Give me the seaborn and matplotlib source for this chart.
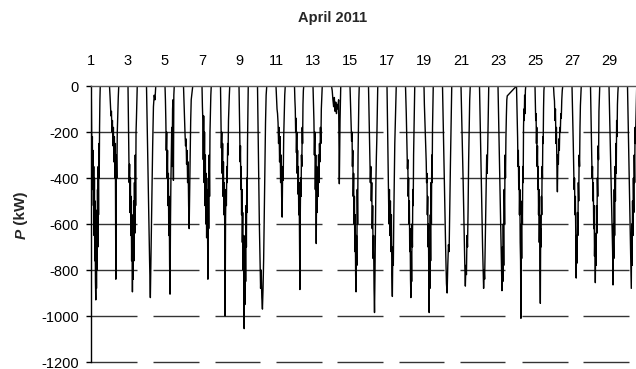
import numpy as np
import pandas as pd
import matplotlib
matplotlib.use("Agg")
import matplotlib.pyplot as plt
import seaborn as sns

# Daytime power readings (kW, generation negative), one list per day of April 2011,
# sampled evenly from sunrise to sunset.
apr01 = [0, -60, -230, -300, -220, -450, -280, -520, -350, -650, -400, -760, -500, -850, -930, -620, -880, -540, -800, -450, -700, -350, -560, -250, -400, -180, -60, 0]
apr02 = [0, -40, -90, -130, -110, -200, -150, -260, -180, -330, -220, -400, -250, -840, -300, -400, -200, -120, -50, 0]
apr03 = [0, -150, -300, -420, -340, -550, -400, -650, -480, -760, -560, -895, -620, -840, -500, -760, -420, -640, -300, -520, -200, -140, -60, 0]
apr04 = [0, -180, -380, -580, -760, -920, -700, -480, -260, -90, -40, -60, 0]
apr05 = [0, -60, -150, -280, -200, -400, -280, -520, -380, -650, -480, -780, -905, -600, -420, -300, -180, -350, -100, -60, -410, -40, 0]
apr06 = [0, -70, -150, -210, -260, -230, -340, -280, -420, -330, -520, -620, -450, -300, -150, -60, -40, -20, 0]
apr07 = [0, -90, -150, -320, -130, -420, -200, -520, -300, -600, -380, -660, -450, -560, -840, -400, -620, -300, -480, -200, -110, -40, 0]
apr08 = [0, -150, -270, -200, -380, -250, -480, -330, -560, -420, -600, -1000, -580, -450, -520, -350, -420, -250, -300, -150, -90, -40, 0]
apr09 = [0, -90, -200, -330, -260, -450, -350, -560, -450, -680, -550, -800, -650, -900, -1055, -780, -950, -650, -850, -520, -700, -400, -550, -250, -120, 0]
apr10 = [0, -200, -400, -600, -750, -880, -800, -920, -970, -880, -750, -560, -350, -160, -40, 0]
apr11 = [0, -50, -100, -120, -160, -250, -180, -330, -220, -420, -300, -480, -570, -350, -410, -220, -120, -40, 0]
apr12 = [0, -60, -100, -200, -140, -290, -200, -380, -280, -470, -350, -560, -420, -680, -885, -560, -400, -480, -300, -350, -180, -250, -80, -20, 0]
apr13 = [0, -80, -150, -300, -200, -450, -300, -685, -350, -550, -400, -480, -300, -420, -250, -330, -180, -250, -100, -50, 0]
apr14 = [0, -20, -60, -90, -50, -110, -70, -120, -80, -100, -60, -425, -150, 0]
apr15 = [0, -60, -130, -180, -240, -200, -350, -280, -480, -380, -600, -480, -720, -560, -820, -895, -650, -780, -450, -600, -300, -170, -60, 0]
apr16 = [0, -100, -200, -300, -420, -350, -500, -420, -620, -520, -750, -650, -880, -985, -820, -600, -420, -310, -230, -100, 0]
apr17 = [0, -150, -320, -480, -600, -450, -650, -500, -720, -560, -820, -915, -700, -780, -560, -400, -250, -165, -80, 0]
apr18 = [0, -60, -120, -200, -280, -360, -320, -480, -400, -600, -500, -720, -620, -840, -920, -720, -850, -600, -700, -450, -520, -300, -195, -80, 0]
apr19 = [0, -80, -130, -170, -220, -265, -330, -420, -380, -560, -480, -700, -600, -850, -985, -700, -880, -560, -760, -420, -600, -300, -420, -185, -80, 0]
apr20 = [0, -150, -300, -450, -600, -740, -860, -900, -780, -690, -720, -520, -340, -170, 0]
apr21 = [0, -100, -200, -300, -420, -540, -660, -780, -870, -780, -820, -650, -700, -540, -330, -200, -60, 0]
apr22 = [0, -120, -240, -360, -480, -600, -700, -790, -880, -800, -840, -700, -560, -410, -300, -380, -265, -120, 0]
apr23 = [0, -100, -200, -300, -400, -500, -600, -700, -800, -890, -700, -850, -600, -780, -450, -600, -300, -400, -225, -130, -60, -43]
apr24 = [0, -80, -160, -225, -350, -280, -450, -350, -560, -450, -680, -760, -1010, -600, -750, -500, -600, -350, -420, -180, -100, -150, -40, -120, -20, 0]
apr25 = [0, -80, -150, -120, -250, -180, -350, -260, -450, -350, -560, -450, -680, -560, -800, -945, -620, -700, -480, -560, -350, -400, -220, -250, -100, -20, 0]
apr26 = [0, -40, -65, -150, -100, -250, -180, -350, -460, -300, -340, -230, -280, -180, -200, -120, -140, -60, -20, 0]
apr27 = [0, -80, -160, -250, -345, -450, -400, -560, -480, -680, -835, -650, -770, -550, -650, -420, -500, -300, -350, -180, -85, -40, 0]
apr28 = [0, -100, -200, -310, -400, -350, -500, -420, -620, -520, -740, -640, -855, -650, -780, -520, -640, -400, -480, -260, -320, -110, -50, 0]
apr29 = [0, -80, -160, -240, -320, -400, -480, -560, -640, -720, -865, -600, -750, -450, -650, -350, -500, -250, -380, -150, -220, -80, -30, 0]
apr30 = [0, -100, -200, -300, -420, -520, -610, -700, -800, -880, -600, -780, -500, -650, -400, -550, -300, -420, -180, -250, -150, -80, 0]

days = list(range(1, 31))
daily = [apr01, apr02, apr03, apr04, apr05, apr06, apr07, apr08, apr09, apr10,
         apr11, apr12, apr13, apr14, apr15, apr16, apr17, apr18, apr19, apr20,
         apr21, apr22, apr23, apr24, apr25, apr26, apr27, apr28, apr29, apr30]

x_ticks = list(range(1, 30, 2))
y_ticks = [0, -200, -400, -600, -800, -1000, -1200]

# Build one continuous time series (days, fractional) from the daily lists
DAYLIGHT = 0.5
t, p = [], []
for d, vals in zip(days, daily):
    n = len(vals)
    t.extend(d + DAYLIGHT * np.arange(n) / (n - 1))
    p.extend(vals)
df = pd.DataFrame({"day": t, "P": p})

sns.set_style("white")
plt.rcParams["font.family"] = ["Liberation Sans", "DejaVu Sans"]
plt.rcParams["axes.unicode_minus"] = False

W, H = 636, 369
FS = 10.5
fig = plt.figure(figsize=(W / 100, H / 100), dpi=100)
ax = fig.add_axes([91 / W, (H - 362) / H, (W - 91) / W, (362 - 86) / H])

# Horizontal reference lines, drawn as broken segments
grid_starts = [1.0, 4.35, 7.70, 11.0, 14.3, 17.65, 20.95, 24.3, 27.6]
grid_ends = [3.49, 6.84, 10.14, 13.49, 16.8, 20.1, 23.4, 26.8, 30.1]
for yv in y_ticks[1:]:
    ax.hlines([yv] * len(grid_starts), grid_starts, grid_ends,
              colors="#333333", linewidth=1.0, zorder=1, clip_on=False)

sns.lineplot(data=df, x="day", y="P", ax=ax, color="black", linewidth=1.0,
             estimator=None, sort=False, zorder=2)

ax.set_xlim(1, 1 + (W - 91) / 18.5)
ax.set_ylim(-1200, 0)
ax.set_xticks(x_ticks)
ax.set_xticklabels([str(v) for v in x_ticks])
ax.set_yticks(y_ticks)
ax.set_yticklabels([str(v) for v in y_ticks])
ax.xaxis.tick_top()
ax.tick_params(axis="x", length=0, pad=13, labelsize=FS, colors="black")
ax.tick_params(axis="y", length=3.6, width=1, pad=5, labelsize=FS,
               colors="black", left=True)
ax.set_xlabel("")
ax.set_ylabel("")
ax.grid(False)

for side in ("bottom", "right"):
    ax.spines[side].set_visible(False)
ax.spines["left"].set_color("black")
ax.spines["left"].set_linewidth(1.0)
ax.spines["top"].set_color("#555555")
ax.spines["top"].set_linewidth(1.0)
ax.spines["top"].set_zorder(3)

fig.text(333 / W, 1 - 18 / H, "April 2011", ha="center", va="center",
         fontsize=FS, fontweight="bold")
fig.text(21.5 / W, 1 - 229 / H, "P", rotation=90, ha="center", va="top",
         fontsize=11, fontweight="bold", fontstyle="italic")
fig.text(21.5 / W, 1 - 229 / H, " (kW)", rotation=90, ha="center", va="bottom",
         fontsize=11, fontweight="bold")

fig.savefig("out.png", dpi=100)
